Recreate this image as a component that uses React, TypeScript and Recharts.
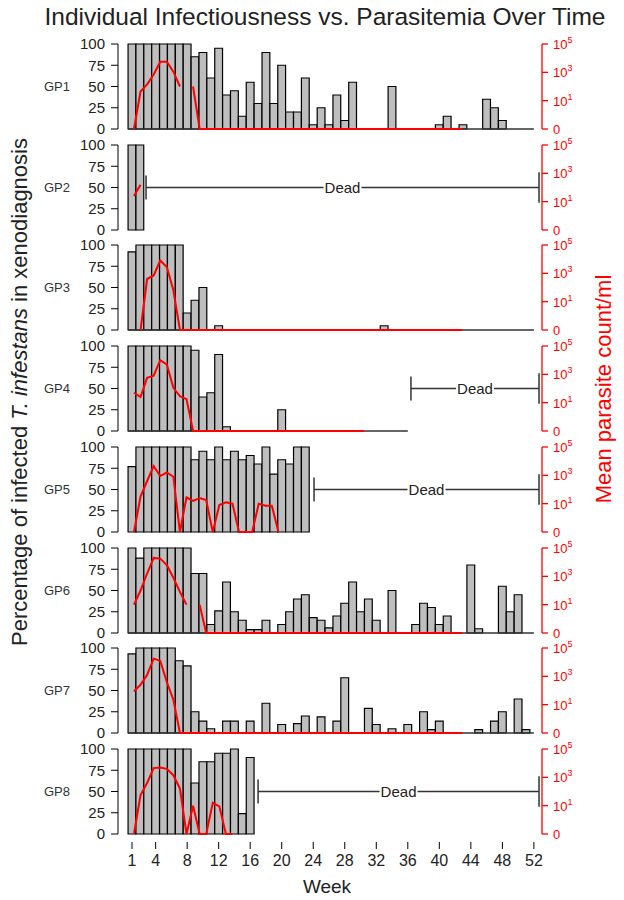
import React from 'react';
import { ComposedChart, Bar, Line, XAxis, YAxis, ReferenceLine } from 'recharts';

// ---------- categories / ticks ----------
const WEEKS = [1, 2, 3, 4, 5, 6, 7, 8, 9, 10, 11, 12, 13, 14, 15, 16, 17, 18, 19, 20, 21, 22, 23, 24, 25, 26,
  27, 28, 29, 30, 31, 32, 33, 34, 35, 36, 37, 38, 39, 40, 41, 42, 43, 44, 45, 46, 47, 48, 49, 50, 51, 52];
const WEEK_TICKS = [1, 4, 8, 12, 16, 20, 24, 28, 32, 36, 40, 44, 48, 52];
const PCT_TICKS = [0, 25, 50, 75, 100];
// log10(mean parasite count/ml); -1 is the axis position labelled "0" (no parasites)
const LOG_TICKS = [-1, 1, 3, 5];
const GROUPS = ['GP1', 'GP2', 'GP3', 'GP4', 'GP5', 'GP6', 'GP7', 'GP8'];

// ---------- % infected T. infestans per week (null = no measurement) ----------
const GP1_PCT = [100, 100, 100, 100, 100, 100, 100, 100, 85, 90, 60, 95, 40, 45, 15, 55, 30, 90, 30, 75, 20, 20, 60, 5, 25, 5,
  40, 10, 55, null, null, null, null, 50, null, null, null, null, null, 5, 15, null, 5, null, null, 35, 25, 10, null, null, null, null];
const GP2_PCT = [100, 100];
const GP3_PCT = [92, 100, 100, 100, 100, 100, 100, 20, 35, 50, null, 5, null, null, null, null, null, null, null, null,
  null, null, null, null, null, null, null, null, null, null, null, null, 5];
const GP4_PCT = [100, 100, 100, 100, 100, 100, 100, 100, 95, 40, 45, 90, 5, null, null, null, null, null, null, 25];
const GP5_PCT = [77, 100, 100, 100, 100, 100, 100, 100, 85, 95, 85, 100, 85, 95, 85, 90, 80, 100, 68, 85, 80, 100, 100];
const GP6_PCT = [100, 88, 100, 100, 100, 100, 100, 100, 70, 70, 10, 26, 60, 25, 15, 4, 4, 15, null, 10, 25, 40, 45, 18, 15, 6,
  20, 35, 60, 25, 40, 15, null, 50, null, null, 10, 35, 30, 10, 20, null, null, 80, 5, null, null, 55, 25, 45, null, null];
const GP7_PCT = [93, 100, 100, 100, 100, 100, 85, 79, 25, 14, 5, null, 14, 14, null, 14, null, 35, null, 10, null, 11, 20, null, 19, null,
  14, 65, null, null, 29, 10, null, 5, null, 10, null, 25, 4, 14, null, null, null, null, 4, null, 14, 25, null, 40, 4, null];
const GP8_PCT = [100, 100, 100, 100, 100, 100, 100, 100, 60, 85, 85, 95, 95, 100, 24, 90];

// ---------- log10 mean parasite count/ml per week (week 1 first) ----------
const GP1_LOG = [-1, 1.65, 2.15, 2.85, 3.75, 3.75, 3.05, 2.0, null, 2.0, -1,
  -1, -1, -1, -1, -1, -1, -1, -1, -1, -1,
  -1, -1, -1, -1, -1, -1, -1, -1, -1, -1,
  -1, -1, -1, -1, -1, -1, -1, -1, -1, -1,
  -1, -1, -1, -1, -1, -1, -1, -1, -1, -1];
const GP2_LOG = [1.4, 2.2];
const GP3_LOG = [null, -1, 2.6, 2.85, 3.9, 3.45, 1.8, -1,
  -1, -1, -1, -1, -1, -1, -1, -1, -1, -1,
  -1, -1, -1, -1, -1, -1, -1, -1, -1, -1,
  -1, -1, -1, -1, -1, -1, -1, -1, -1, -1,
  -1, -1, -1, -1, -1, -1, -1, -1, -1, -1, -1, -1, -1];
const GP4_LOG = [1.7, 1.4, 2.75, 2.9, 4.0, 3.7, 2.05, 1.45, 1.25,
  -1, -1, -1, -1, -1, -1, -1, -1, -1, -1,
  -1, -1, -1, -1, -1, -1, -1, -1, -1, -1,
  -1, -1, -1, -1, -1, -1, -1];
const GP5_LOG = [-1, 1.5, 2.6, 3.65, 2.95, 3.2, 2.9, -1, 1.45, 1.2, 1.4, 1.25, -1, 0.9, 1.1, 1.0, -1, -1, -1, 1.0, 0.85, 0.85, -1];
const GP6_LOG = [1.0, 2.0, 3.2, 4.3, 4.25, 3.8, 2.9, 1.9, 1.0, null, 1.0, -1,
  -1, -1, -1, -1, -1, -1, -1, -1, -1, -1,
  -1, -1, -1, -1, -1, -1, -1, -1, -1, -1,
  -1, -1, -1, -1, -1, -1, -1, -1, -1, -1,
  -1, -1, -1, -1, -1, -1, -1, -1, -1];
const GP7_LOG = [1.95, 2.4, 3.1, 4.25, 4.1, 2.6, 1.35, -1,
  -1, -1, -1, -1, -1, -1, -1, -1, -1, -1,
  -1, -1, -1, -1, -1, -1, -1, -1, -1, -1,
  -1, -1, -1, -1, -1, -1, -1, -1, -1, -1,
  -1, -1, -1, -1, -1, -1, -1, -1, -1, -1, -1, -1, -1];
const GP8_LOG = [-1, 1.75, 2.6, 3.65, 3.7, 3.6, 3.15, 2.2, -1, 1.0, -1, -1, 1.2, 0.95, -1, -1];

// week at which the animal died (null = survived) and extent of the zero baseline
const DEAD_FROM = [null, 2.78, null, 36.4, 24.1, null, null, 17.0];
const DEAD_TO = 52.65;
const BASE_TO = [52, null, 52, 36, null, 52, 52, null];

const PCTS = [GP1_PCT, GP2_PCT, GP3_PCT, GP4_PCT, GP5_PCT, GP6_PCT, GP7_PCT, GP8_PCT];
const LOGS = [GP1_LOG, GP2_LOG, GP3_LOG, GP4_LOG, GP5_LOG, GP6_LOG, GP7_LOG, GP8_LOG];

// the parasitemia line is drawn in the barplot's own coordinates (bar spacing 1.2, offset 0.5)
const LINE_SPACING = 1.2;
const LINE_OFFSET = 0.5;

// ---------- layout ----------
const W = 624;
const XMIN = -0.777;
const XMAX = 53.03;
const TOP0 = 44;
const STEP = 100.7;
const PLOT_H = 85;
const PAD = 13;
const FONT = '"Liberation Sans", Arial, Helvetica, sans-serif';
const RED = '#ff0000';
const INK = '#222';

function DeadLabel(props: any) {
  const vb = props.viewBox || {};
  const cx = vb.x + (vb.width || 0) / 2;
  const cy = vb.y + (vb.height || 0) / 2;
  return (
    <g>
      <rect x={cx - 19} y={cy - 9} width={38} height={18} fill="#fff" />
      <text x={cx} y={cy} dy={5} textAnchor="middle" fontSize={15} fill={INK}>Dead</text>
    </g>
  );
}

function RightTick(props: any) {
  const { x, y, payload } = props;
  const v = payload.value;
  return (
    <text x={x} y={y} dy={5} textAnchor="start" fill={RED} fontSize={13}>
      {v === -1 ? '0' : (
        <>
          <tspan>10</tspan>
          <tspan dy={-6} fontSize={9}>{String(v)}</tspan>
        </>
      )}
    </text>
  );
}

function BarPanel({ idx }: { idx: number }) {
  const pct = PCTS[idx];
  const data = WEEKS.map((w, i) => ({ week: w, pct: i < pct.length ? pct[i] : null }));
  const top = TOP0 + idx * STEP;
  const dead = DEAD_FROM[idx];
  const base = BASE_TO[idx];
  return (
    <div style={{ position: 'absolute', left: 0, top: top - PAD }}>
      <ComposedChart width={W} height={PLOT_H + 2 * PAD} data={data}
        margin={{ top: PAD, bottom: PAD, left: 78, right: 82 }}>
        <XAxis type="number" dataKey="week" domain={[XMIN, XMAX]} hide />
        <YAxis domain={[0, 100]} ticks={PCT_TICKS} interval={0} width={40} tickSize={7} tickMargin={6}
          axisLine={{ stroke: '#000' }} tickLine={{ stroke: '#000' }}
          tick={{ fontSize: 15, fill: INK }} />
        {base != null && (
          <ReferenceLine segment={[{ x: 0.5, y: 0 }, { x: base, y: 0 }]} stroke="#333" strokeWidth={1.3} />
        )}
        <Bar dataKey="pct" fill="#bebebe" stroke="#000" strokeWidth={1.2} barSize={7.8} isAnimationActive={false} />
        {dead != null && (
          <ReferenceLine segment={[{ x: dead, y: 50 }, { x: DEAD_TO, y: 50 }]} stroke="#333" strokeWidth={1.3}
            label={(p: any) => <DeadLabel {...p} />} />
        )}
        {dead != null && (
          <ReferenceLine segment={[{ x: dead, y: 36 }, { x: dead, y: 64 }]} stroke="#333" strokeWidth={1.5} />
        )}
        {dead != null && (
          <ReferenceLine segment={[{ x: DEAD_TO, y: 32 }, { x: DEAD_TO, y: 68 }]} stroke="#333" strokeWidth={1.5} />
        )}
      </ComposedChart>
    </div>
  );
}

function LinePanel({ idx }: { idx: number }) {
  const logs = LOGS[idx];
  const data = logs.map((v, i) => ({ week: (i + 1 + LINE_OFFSET) / LINE_SPACING, log: v }));
  const top = TOP0 + idx * STEP;
  return (
    <div style={{ position: 'absolute', left: 0, top: top - PAD }}>
      <ComposedChart width={W} height={PLOT_H + 2 * PAD} data={data}
        margin={{ top: PAD, bottom: PAD, left: 118, right: 32 }}>
        <XAxis type="number" dataKey="week" domain={[XMIN, XMAX]} hide />
        <YAxis yAxisId="r" orientation="right" domain={[-1, 5]} ticks={LOG_TICKS} interval={0} width={50}
          tickSize={6} tickMargin={5} axisLine={{ stroke: RED, strokeWidth: 1.3 }} tickLine={{ stroke: RED, strokeWidth: 1.3 }}
          tick={<RightTick />} />
        <Line yAxisId="r" type="linear" dataKey="log" stroke={RED} strokeWidth={2} dot={false}
          connectNulls={false} isAnimationActive={false} />
      </ComposedChart>
    </div>
  );
}

function WeekAxis() {
  const data = WEEK_TICKS.map((w) => ({ week: w, v: 0 }));
  const axisY = 842;
  const plotH = 10;
  return (
    <div style={{ position: 'absolute', left: 0, top: axisY - plotH }}>
      <ComposedChart width={W} height={plotH + 36} data={data}
        margin={{ top: 0, bottom: 0, left: 118, right: 82 }}>
        <XAxis type="number" dataKey="week" domain={[XMIN, XMAX]} ticks={WEEK_TICKS} interval={0} height={36}
          axisLine={false} tickLine={{ stroke: '#000' }} tickSize={7} tickMargin={6}
          tick={{ fontSize: 16, fill: INK }} />
        <YAxis domain={[0, 1]} hide />
        <ReferenceLine segment={[{ x: 1, y: 0 }, { x: 52, y: 0 }]} stroke="#000" strokeWidth={1.2} />
      </ComposedChart>
    </div>
  );
}

export default function App() {
  const idxs = GROUPS.map((_, i) => i);
  return (
    <div style={{ position: 'absolute', left: 0, top: 0, width: W, height: 900, background: '#fff', fontFamily: FONT }}>
      {idxs.map((i) => <BarPanel key={'b' + i} idx={i} />)}
      {idxs.map((i) => <LinePanel key={'l' + i} idx={i} />)}
      <WeekAxis />
      <svg width={W} height={900} style={{ position: 'absolute', left: 0, top: 0, pointerEvents: 'none' }}>
        <text x={325} y={25} textAnchor="middle" fontSize={24.5} fill={INK}>
          Individual Infectiousness vs. Parasitemia Over Time
        </text>
        {GROUPS.map((g, i) => (
          <text key={g} x={57} y={TOP0 + i * STEP + PLOT_H / 2} dy={4.5} textAnchor="middle" fontSize={13} fill="#333">{g}</text>
        ))}
        <text x={20} y={392} transform="rotate(-90 20 392)" textAnchor="middle" dy={7} fontSize={22} fill={INK}>
          Percentage of infected <tspan fontStyle="italic">T. infestans</tspan> in xenodiagnosis
        </text>
        <text x={604} y={389} transform="rotate(-90 604 389)" textAnchor="middle" dy={7} fontSize={22} fill={RED}>
          Mean parasite count/ml
        </text>
        <text x={327} y={887} textAnchor="middle" dy={6} fontSize={19} fill={INK}>Week</text>
      </svg>
    </div>
  );
}
